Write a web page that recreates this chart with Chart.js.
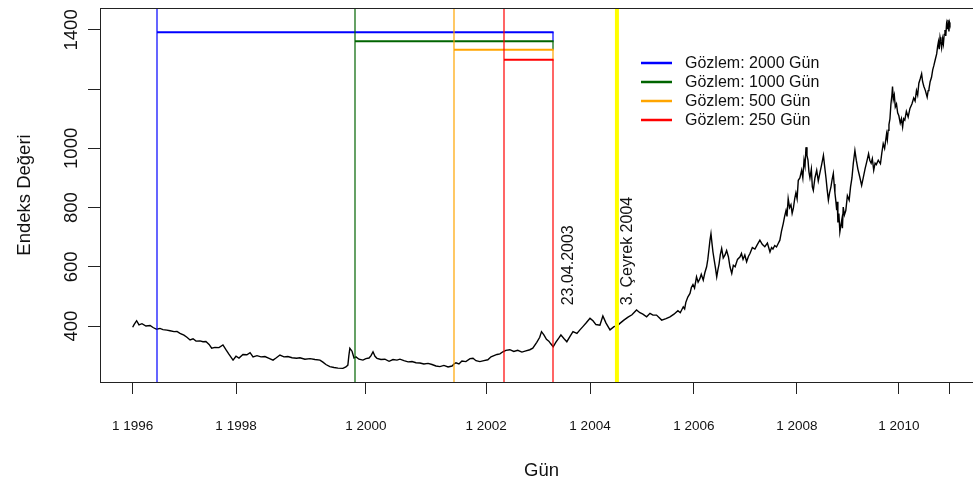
<!DOCTYPE html>
<html lang="tr">
<head>
<meta charset="utf-8">
<title>Endeks Değeri</title>
<script src="https://cdn.jsdelivr.net/npm/chart.js@4.4.1/dist/chart.umd.min.js"></script>
<style>
  html, body { margin: 0; padding: 0; background: #fff; overflow: hidden; }
  #wrap { width: 973px; height: 485px; overflow: hidden; }
</style>
</head>
<body>
<div id="wrap"><canvas id="indexChart" width="990" height="485"></canvas></div>
<script>
// trading day number (0 = first day of 1996) and the index level on that day
const dayIndex = [0, 7, 20, 32, 47, 67, 88, 103, 121, 138, 153, 173, 189, 209, 224, 239, 259, 274, 290, 305,
  320, 340, 355, 370, 386, 399, 416, 436, 456, 471, 486, 507, 522, 537, 557, 577, 593, 608, 628, 648,
  668, 689, 709, 724, 744, 764, 784, 805, 828, 845, 870, 896, 921, 946, 961, 976, 996, 1017, 1037, 1062,
  1077, 1087, 1092, 1097, 1108, 1118, 1128, 1143, 1163, 1178, 1194, 1204, 1214, 1224, 1234, 1254, 1274, 1295, 1315, 1335,
  1350, 1370, 1391, 1411, 1431, 1451, 1471, 1492, 1512, 1532, 1552, 1572, 1593, 1613, 1623, 1633, 1648, 1663, 1683, 1704,
  1719, 1734, 1754, 1774, 1794, 1810, 1825, 1840, 1855, 1870, 1885, 1905, 1925, 1945, 1966, 1986, 2006, 2021, 2041, 2056,
  2065, 2077, 2090, 2102, 2112, 2124, 2137, 2153, 2163, 2178, 2193, 2209, 2224, 2244, 2259, 2274, 2290, 2310, 2325, 2340,
  2360, 2375, 2391, 2411, 2431, 2446, 2461, 2481, 2502, 2522, 2545, 2562, 2577, 2596, 2613, 2628, 2646, 2672, 2694, 2714,
  2734, 2754, 2766, 2781, 2788, 2794, 2804, 2815, 2822, 2830, 2838, 2848, 2856, 2865, 2872, 2882, 2890, 2899, 2905, 2911,
  2916, 2921, 2926, 2931, 2938, 2944, 2950, 2956, 2962, 2968, 2975, 2983, 2992, 3000, 3009, 3017, 3026, 3034, 3043, 3055,
  3068, 3075, 3083, 3092, 3101, 3110, 3118, 3130, 3143, 3155, 3168, 3180, 3193, 3206, 3219, 3227, 3234, 3243, 3252, 3260,
  3269, 3277, 3286, 3293, 3300, 3305, 3311, 3318, 3325, 3331, 3337, 3344, 3350, 3356, 3362, 3370, 3379, 3385, 3391, 3396,
  3401, 3406, 3411, 3416, 3421, 3428, 3433, 3438, 3446, 3455, 3463, 3472, 3480, 3489, 3495, 3502, 3508, 3514, 3520, 3527,
  3533, 3539, 3543, 3547, 3552, 3556, 3559, 3562, 3567, 3572, 3577, 3582, 3585, 3589, 3595, 3602, 3610, 3619, 3626, 3633,
  3640, 3648, 3655, 3663, 3672, 3682, 3690, 3699, 3708, 3717, 3723, 3730, 3736, 3743, 3750, 3756, 3766, 3777, 3784, 3791,
  3798, 3808, 3812, 3816, 3820, 3825, 3830, 3835, 3838, 3842, 3847, 3852, 3858, 3864, 3870, 3877, 3883, 3889, 3894, 3900,
  3908, 3917, 3926, 3936, 3945, 3952, 3959, 3965, 3971, 3978, 3985, 3990, 3996, 4004, 4013, 4018, 4022, 4028, 4035, 4041,
  4047, 4054, 4061, 4066, 4070, 4074, 4078, 4082, 4086, 4091, 4095, 4099, 4103, 4107, 4111, 4115, 4118, 4121, 4123, 4126,
  4128];
const indexValues = [396, 405, 418, 404, 408, 400, 402, 395, 389, 392, 388, 386, 384, 381, 382, 375, 369, 362, 353, 357,
  349, 350, 347, 348, 338, 325, 328, 327, 336, 320, 305, 285, 298, 292, 304, 303, 310, 296, 300, 296,
  297, 291, 285, 292, 302, 296, 297, 293, 291, 293, 288, 290, 287, 285, 278, 270, 263, 260, 258, 257,
  262, 268, 300, 325, 315, 292, 296, 288, 285, 290, 292, 300, 313, 298, 291, 287, 288, 281, 287, 285,
  288, 283, 279, 280, 276, 275, 272, 274, 270, 265, 263, 267, 262, 265, 272, 276, 272, 282, 280, 290,
  291, 283, 280, 283, 286, 296, 300, 304, 306, 313, 318, 320, 314, 318, 312, 316, 320, 325, 345, 362,
  381, 370, 355, 349, 340, 330, 345, 360, 370, 358, 347, 365, 381, 375, 387, 398, 410, 426, 418, 405,
  403, 434, 410, 387, 398, 400, 409, 420, 430, 438, 454, 445, 440, 431, 443, 437, 437, 420, 425, 431,
  440, 452, 445, 465, 458, 480, 498, 510, 530, 540, 528, 566, 548, 560, 575, 555, 580, 600, 625, 660,
  690, 712, 680, 650, 620, 595, 566, 590, 610, 640, 662, 630, 640, 655, 634, 600, 578, 605, 600, 625,
  634, 645, 625, 640, 617, 635, 645, 665, 660, 675, 690, 676, 668, 680, 650, 665, 660, 672, 667, 678,
  690, 720, 746, 770, 790, 770, 830, 800, 810, 780, 797, 830, 850, 830, 892, 900, 926, 900, 960, 940,
  1004, 975, 960, 920, 900, 930, 870, 858, 900, 926, 890, 920, 945, 976, 940, 900, 860, 825, 850, 870,
  895, 915, 880, 850, 820, 791, 820, 750, 780, 718, 740, 760, 730, 802, 775, 790, 840, 825, 870, 900,
  950, 993, 960, 930, 905, 875, 900, 930, 955, 982, 960, 950, 965, 926, 950, 945, 960, 948, 985, 1016,
  1000, 1049, 1030, 1061, 1080, 1100, 1150, 1180, 1209, 1165, 1180, 1140, 1150, 1120, 1110, 1085, 1100, 1072, 1100, 1095,
  1125, 1106, 1135, 1150, 1170, 1160, 1195, 1180, 1220, 1235, 1252, 1225, 1210, 1195, 1173, 1195, 1200, 1225, 1240, 1265,
  1280, 1300, 1319, 1345, 1360, 1335, 1375, 1360, 1340, 1370, 1353, 1385, 1400, 1380, 1420, 1405, 1434, 1410, 1395, 1425,
  1420];

const xTickDays = [0, 522, 1178, 1785, 2310, 2835, 3355, 3870, 4128];
const xTickLabels = ['1 1996', '1 1998', '1 2000', '1 2002', '1 2004', '1 2006', '1 2008', '1 2010', ''];
const yTicks = [400, 600, 800, 1000, 1200, 1400];
const yTickLabels = ['400', '600', '800', '1000', '', '1400'];

// estimation windows, all ending on the cut-off day
const windowDays = [2000, 1000, 500, 250];
const windowLevels = [1392, 1362, 1333, 1299];
const windowColors = ['#0000ff', '#006400', '#ffa500', '#ff0000'];
const windowLabels = ['Gözlem: 2000 Gün', 'Gözlem: 1000 Gün', 'Gözlem: 500 Gün', 'Gözlem: 250 Gün'];
const cutoffDay = 2125;
const cutoffLabel = '23.04.2003';
const quarterDay = 2446;
const quarterLabel = '3. Çeyrek 2004';

const FONT = "'Liberation Sans', Arial, Helvetica, sans-serif";

const points = dayIndex.map((d, i) => ({ x: d, y: indexValues[i] }));

// windows, the quarter marker, rotated notes and the legend
const overlayPlugin = {
  id: 'overlays',
  afterDatasetsDraw(chart) {
    const ctx = chart.ctx;
    const xs = chart.scales.x;
    const ys = chart.scales.y;
    const area = chart.chartArea;
    // thin verticals sit on a pixel edge so they spread over two columns
    const xEnd = Math.round(xs.getPixelForValue(cutoffDay));

    ctx.save();
    windowDays.forEach((len, i) => {
      const xStart = Math.round(xs.getPixelForValue(cutoffDay - len));
      const yLevel = ys.getPixelForValue(windowLevels[i]);
      // the end line of each window only runs down to the next window's level
      const yStop = i + 1 < windowLevels.length ? ys.getPixelForValue(windowLevels[i + 1]) : area.bottom;
      ctx.strokeStyle = windowColors[i];
      ctx.lineWidth = 1.2;
      ctx.beginPath();
      ctx.moveTo(xStart, area.top);
      ctx.lineTo(xStart, area.bottom);
      ctx.moveTo(xEnd, yLevel);
      ctx.lineTo(xEnd, yStop);
      ctx.stroke();
      ctx.lineWidth = 2;
      ctx.beginPath();
      ctx.moveTo(xStart, yLevel);
      ctx.lineTo(xEnd + 0.6, yLevel);
      ctx.stroke();
    });

    const xq = xs.getPixelForValue(quarterDay);
    ctx.strokeStyle = '#ffff00';
    ctx.lineWidth = 4;
    ctx.beginPath();
    ctx.moveTo(xq, area.top);
    ctx.lineTo(xq, area.bottom);
    ctx.stroke();

    // vertical notes next to the two dates
    ctx.fillStyle = '#111';
    ctx.font = '16px ' + FONT;
    ctx.textAlign = 'left';
    ctx.textBaseline = 'alphabetic';
    const noteY = ys.getPixelForValue(470);
    [[xEnd + 20, cutoffLabel], [xq + 15, quarterLabel]].forEach(([x, txt]) => {
      ctx.save();
      ctx.translate(x, noteY);
      ctx.rotate(-Math.PI / 2);
      ctx.fillText(txt, 0, 0);
      ctx.restore();
    });

    // legend without a frame
    ctx.font = '16px ' + FONT;
    ctx.textBaseline = 'middle';
    windowLabels.forEach((label, i) => {
      const y = 63 + i * 19;
      ctx.strokeStyle = windowColors[i];
      ctx.lineWidth = 2.5;
      ctx.beginPath();
      ctx.moveTo(641, y);
      ctx.lineTo(672, y);
      ctx.stroke();
      ctx.fillStyle = '#111';
      ctx.fillText(label, 685, y + 1);
    });
    ctx.restore();
  },
  afterDraw(chart) {
    const ctx = chart.ctx;
    const ys = chart.scales.y;
    const area = chart.chartArea;
    ctx.save();
    ctx.strokeStyle = '#222';
    ctx.lineWidth = 1;
    ctx.strokeRect(Math.round(area.left) + 0.5, Math.round(area.top) + 0.5,
      area.right - area.left, area.bottom - area.top);

    // y tick labels read upwards, like the axis title
    ctx.fillStyle = '#111';
    ctx.font = '18.5px ' + FONT;
    ctx.textAlign = 'center';
    ctx.textBaseline = 'alphabetic';
    yTicks.forEach((v, i) => {
      if (!yTickLabels[i]) return;
      ctx.save();
      ctx.translate(76.5, ys.getPixelForValue(v));
      ctx.rotate(-Math.PI / 2);
      ctx.fillText(yTickLabels[i], 0, 0);
      ctx.restore();
    });

    ctx.save();
    ctx.translate(30, (area.top + area.bottom) / 2);
    ctx.rotate(-Math.PI / 2);
    ctx.fillText('Endeks Değeri', 0, 0);
    ctx.restore();

    ctx.textBaseline = 'middle';
    ctx.fillText('Gün', (area.left + area.right) / 2, 471);
    ctx.restore();
  }
};

new Chart(document.getElementById('indexChart'), {
  type: 'line',
  data: {
    datasets: [{
      data: points,
      borderColor: '#000',
      borderWidth: 1.4,
      pointRadius: 0,
      tension: 0,
      fill: false
    }]
  },
  options: {
    responsive: false,
    animation: false,
    events: [],
    layout: { padding: { top: 8, right: 7, left: 0, bottom: 0 } },
    plugins: { legend: { display: false }, tooltip: { enabled: false }, title: { display: false } },
    scales: {
      x: {
        type: 'linear',
        min: -165,
        max: 4295,
        afterBuildTicks: scale => { scale.ticks = xTickDays.map(v => ({ value: v })); },
        afterFit: scale => { scale.height = 103; },
        grid: { display: true, drawOnChartArea: false, drawTicks: true, tickLength: 12, color: '#222' },
        border: { display: false },
        ticks: {
          autoSkip: false,
          maxRotation: 0,
          minRotation: 0,
          padding: 24,
          color: '#111',
          font: { size: 13.5, family: FONT },
          callback: (value, i) => xTickLabels[i]
        }
      },
      y: {
        type: 'linear',
        min: 211,
        max: 1474,
        afterBuildTicks: scale => { scale.ticks = yTicks.map(v => ({ value: v })); },
        afterFit: scale => { scale.width = 100; },
        grid: { display: true, drawOnChartArea: false, drawTicks: true, tickLength: 12, color: '#222' },
        border: { display: false },
        ticks: { display: false }
      }
    }
  },
  plugins: [overlayPlugin]
});
</script>
</body>
</html>
